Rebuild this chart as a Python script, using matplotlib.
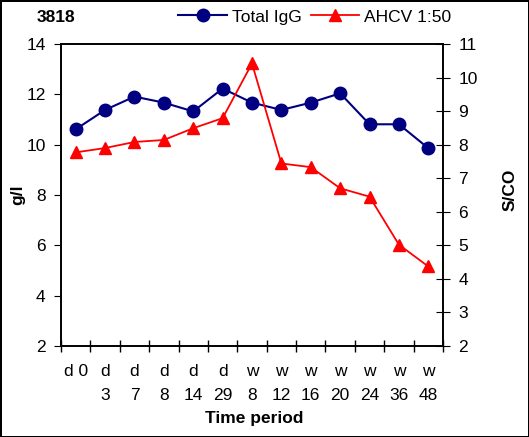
import matplotlib.pyplot as plt

plt.rcParams['font.family'] = ['Liberation Sans', 'DejaVu Sans']

labels = ['d 0', 'd\n3', 'd\n7', 'd\n8', 'd\n14', 'd\n29', 'w\n8',
          'w\n12', 'w\n16', 'w\n20', 'w\n24', 'w\n36', 'w\n48']
igg = [10.61, 11.38, 11.91, 11.67, 11.32, 12.23, 11.67,
       11.38, 11.67, 12.04, 10.81, 10.81, 9.86]
ahcv = [7.77, 7.90, 8.08, 8.14, 8.49, 8.79, 10.42,
        7.44, 7.33, 6.70, 6.45, 5.02, 4.37]

fig = plt.figure(figsize=(5.29, 4.37), dpi=100)
fig.patch.set_edgecolor('black')
fig.patch.set_linewidth(2)
ax = fig.add_axes((61 / 529, 1 - 346 / 437, 382 / 529, 302 / 437))
ax2 = ax.twinx()

x = list(range(len(labels)))
l1, = ax.plot(x, igg, color='#000080', marker='o', markersize=9,
              linewidth=1.5, label='Total IgG')
l2, = ax2.plot(x, ahcv, color='#ff0000', marker='^', markersize=8,
               linewidth=1.3, label='AHCV 1:50')

ax.set_xlim(-0.5, len(labels) - 0.5)
ax.set_ylim(2, 14)
ax.set_yticks(range(2, 15, 2))
ax2.set_ylim(2, 11)
ax2.set_yticks(range(2, 12))

# category ticks sit between the points, labels at the centres
ax.set_xticks([i - 0.5 for i in range(len(labels) + 1)])
ax.set_xticklabels([])
ax.set_xticks(x, minor=True)
ax.set_xticklabels(labels, minor=True, fontsize=12.5, linespacing=1.75,
                   va='top')
ax.tick_params(axis='x', which='major', direction='inout', length=8,
               width=1)
ax.tick_params(axis='x', which='minor', length=0, pad=13)
ax.tick_params(axis='y', direction='out', length=5, labelsize=12.5, pad=6)
ax2.tick_params(axis='y', direction='inout', length=10, labelsize=12.5, pad=6)

for a in (ax, ax2):
    for s in a.spines.values():
        s.set_linewidth(1.2)

fig.text(18 / 529, 1 - 195 / 437, 'g/l', rotation=90, fontsize=12.5,
         fontweight='bold', ha='center', va='center')
fig.text(510 / 529, 1 - 190 / 437, 'S/CO', rotation=90, fontsize=12.5,
         fontweight='bold', ha='center', va='center')
fig.text(254 / 529, 1 - 419 / 437, 'Time period', fontsize=12.5,
         fontweight='bold', ha='center', va='center')
fig.text(37 / 529, 1 - 17 / 437, '3818', fontsize=12.5,
         fontweight='bold', ha='left', va='center')

fig.legend(handles=[l1, l2], loc='center', ncol=2, frameon=False,
           bbox_to_anchor=(315 / 529, 1 - 17 / 437), fontsize=12.5,
           handlelength=2.8, handletextpad=0.3, columnspacing=0.5,
           borderaxespad=0)

fig.savefig('out.png', dpi=100)
